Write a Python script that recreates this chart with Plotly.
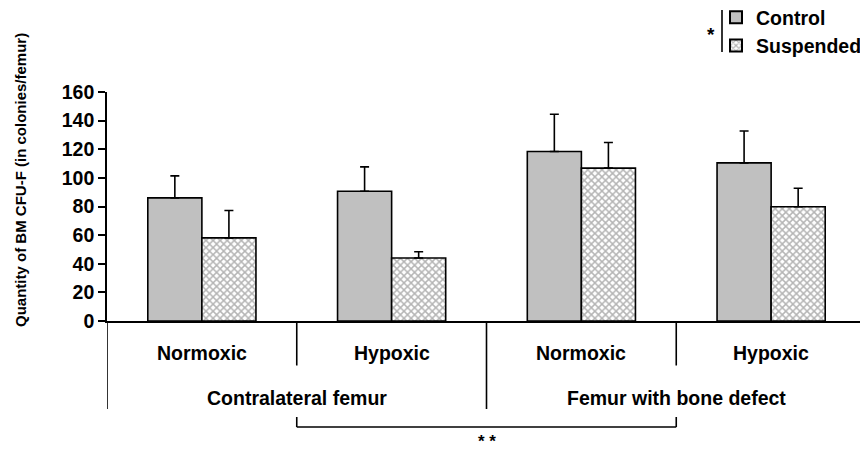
import plotly.graph_objects as go

# ---- data ----
conditions = ["Normoxic", "Hypoxic", "Normoxic", "Hypoxic"]
groups = ["Contralateral femur", "Femur with bone defect"]
control = [86, 90.7, 118.4, 110.5]
control_err = [15.4, 17, 26.1, 22.3]
suspended = [58.1, 44, 106.8, 79.8]
suspended_err = [19.1, 4.4, 17.9, 13]
y_ticks = [0, 20, 40, 60, 80, 100, 120, 140, 160]
series_names = ["Control", "Suspended"]

FONT = "Liberation Sans, Arial, sans-serif"
xpos = list(range(len(conditions)))

# page body has an 8px margin, so the figure is drawn offset by 8px
OFF = 8
W, H = 868 - OFF, 452 - OFF
L, R, T, B = 107 - OFF, 2, 92 - OFF, 131
ph = H - T - B
pw = W - L - R


def py(pix):
    """screen pixel y -> paper y"""
    return (OFF + H - B - pix) / ph


def px(pix):
    """screen pixel x -> paper x"""
    return (pix - OFF - L) / pw


fig = go.Figure()
fig.add_trace(go.Bar(
    x=xpos, y=control, name=series_names[0],
    marker=dict(color="#c0c0c0", line=dict(color="black", width=1.6)),
    error_y=dict(type="data", array=control_err, arrayminus=[0] * 4, symmetric=False,
                 color="black", thickness=1.6, width=4.5),
))
fig.add_trace(go.Bar(
    x=xpos, y=suspended, name=series_names[1],
    marker=dict(color="white", line=dict(color="black", width=1.6),
                pattern=dict(shape="x", fgcolor="#6a6a6a", bgcolor="white", size=5, solidity=0.5)),
    error_y=dict(type="data", array=suspended_err, arrayminus=[0] * 4, symmetric=False,
                 color="black", thickness=1.6, width=4.5),
))

annotations = []
# inner labels
for xi, lab in zip(xpos, conditions):
    annotations.append(dict(x=xi, xref="x", y=py(353), yref="paper", text=lab, showarrow=False,
                            font=dict(family=FONT, size=19.5, color="black", weight="bold"),
                            xanchor="center", yanchor="middle"))
# outer labels
for gi, lab in enumerate(groups):
    annotations.append(dict(x=gi * 2 + 0.5, xref="x", y=py(398), yref="paper", text=lab, showarrow=False,
                            font=dict(family=FONT, size=19.5, color="black", weight="bold"),
                            xanchor="center", yanchor="middle"))
# significance stars
annotations.append(dict(x=1.5, xref="x", y=py(441.5), yref="paper", text="* *", showarrow=False,
                        font=dict(family=FONT, size=17, color="black", weight="bold"),
                        xanchor="center", yanchor="middle"))
annotations.append(dict(x=px(711), xref="paper", y=py(35), yref="paper", text="*", showarrow=False,
                        font=dict(family=FONT, size=19, color="black", weight="bold"),
                        xanchor="center", yanchor="middle"))
# y axis title
annotations.append(dict(x=px(20), xref="paper", y=py(180), yref="paper",
                        text="Quantity of BM CFU-F (in colonies/femur)", showarrow=False, textangle=-90,
                        font=dict(family=FONT, size=15, color="black", weight="bold"),
                        xanchor="center", yanchor="middle"))

shapes = []
line_style = dict(color="black", width=1.6)
# dividers
for xd, bottom in [(-0.5, 409), (0.5, 365.5), (1.5, 409), (2.5, 365.5), (3.5, 409)]:
    shapes.append(dict(type="line", xref="x", yref="paper", x0=xd, x1=xd, y0=0, y1=py(bottom),
                       line=line_style))
# bracket
shapes.append(dict(type="line", xref="x", yref="paper", x0=0.5, x1=2.5, y0=py(427), y1=py(427), line=line_style))
shapes.append(dict(type="line", xref="x", yref="paper", x0=0.5, x1=0.5, y0=py(417), y1=py(427), line=line_style))
shapes.append(dict(type="line", xref="x", yref="paper", x0=2.5, x1=2.5, y0=py(417), y1=py(427), line=line_style))
# legend bracket line
shapes.append(dict(type="line", xref="paper", yref="paper", x0=px(722), x1=px(722), y0=py(10), y1=py(52),
                   line=line_style))

fig.update_layout(
    width=W, height=H,
    margin=dict(l=L, r=R, t=T, b=B, autoexpand=False),
    paper_bgcolor="white", plot_bgcolor="white",
    barmode="group", bargap=0.43, bargroupgap=0,
    font=dict(family=FONT, color="black"),
    showlegend=True,
    legend=dict(x=px(716), xanchor="left", y=py(-2), yanchor="top",
                font=dict(family=FONT, size=19.5, color="black", weight="bold"),
                bgcolor="rgba(0,0,0,0)", borderwidth=0, tracegroupgap=0,
                itemsizing="constant"),
    xaxis=dict(range=[-0.5, 3.5], showticklabels=False, ticks="", showline=True,
               linecolor="black", linewidth=1.6, showgrid=False, zeroline=False, fixedrange=True),
    yaxis=dict(range=[0, 160], tickvals=y_ticks, ticks="outside", ticklen=7, tickwidth=1.6,
               tickcolor="black", showline=True, linecolor="black", linewidth=1.6,
               showgrid=False, zeroline=False,
               tickfont=dict(family=FONT, size=19.5, color="black", weight="bold")),
    annotations=annotations,
    shapes=shapes,
)

fig.write_html("out.html")
